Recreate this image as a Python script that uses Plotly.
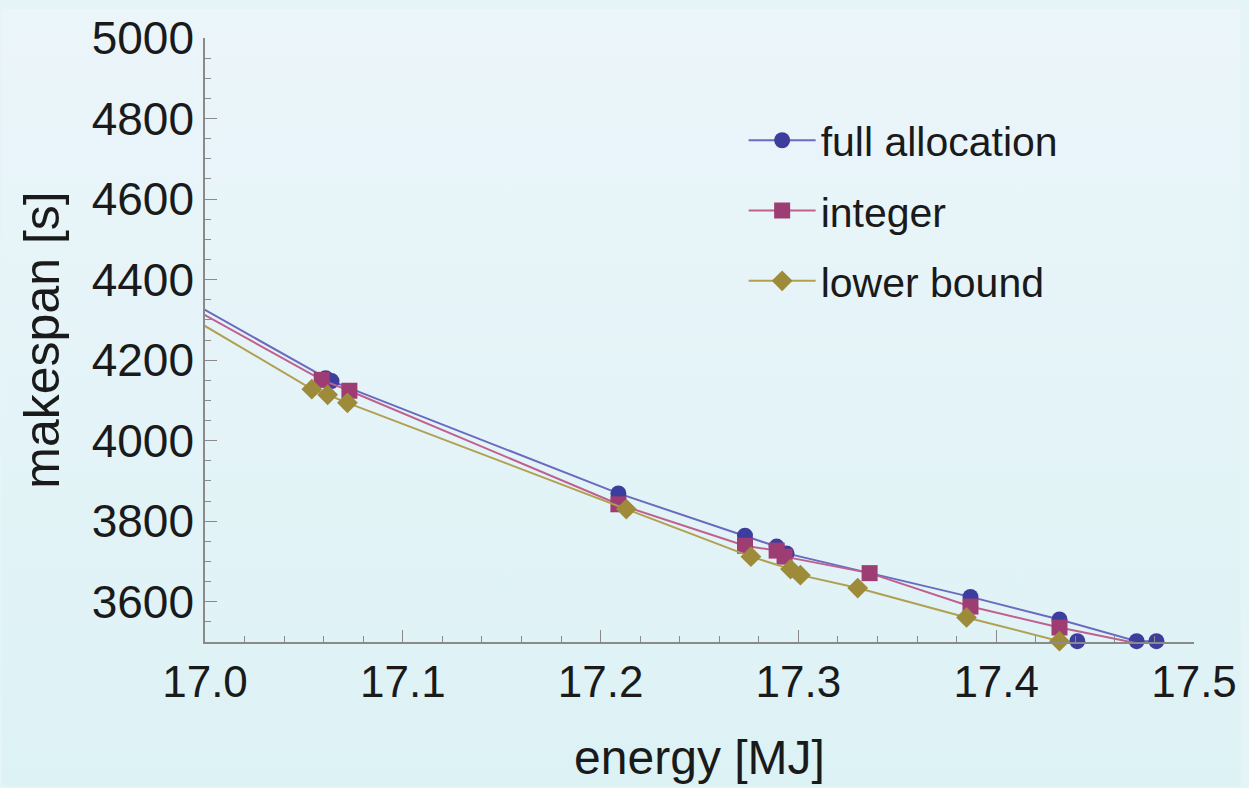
import base64
import plotly.graph_objects as go

# ---- data ----
full_x = [16.960, 17.061, 17.064, 17.209, 17.273, 17.289, 17.294, 17.387, 17.432, 17.471, 17.481, None, 17.441]
full_y = [4435, 4155, 4148, 3869, 3764, 3737, 3720, 3612, 3556, 3502, 3502, None, 3502]

int_x = [16.960, 17.059, 17.073, 17.209, 17.273, 17.289, 17.293, 17.336, 17.387, 17.432, 17.481]
int_y = [4421, 4151, 4124, 3842, 3739, 3727, 3712, 3671, 3588, 3536, 3487]

low_x = [16.960, 17.054, 17.062, 17.072, 17.213, 17.276, 17.296, 17.301, 17.330, 17.385, 17.432]
low_y = [4401, 4128, 4114, 4094, 3830, 3712, 3681, 3666, 3634, 3561, 3502]

x_ticks = [17.0, 17.1, 17.2, 17.3, 17.4, 17.5]
x_tick_labels = ["17.0", "17.1", "17.2", "17.3", "17.4", "17.5"]
y_ticks = [3600, 3800, 4000, 4200, 4400, 4600, 4800, 5000]

series_names = ["full allocation", "integer", "lower bound"]
colors = ["#3d3d9e", "#9e3d73", "#9e8b3a"]
line_colors = ["#6a6ac0", "#c0608f", "#b0a050"]

W, H = 1249, 788
L, R, T, B = 205, 47, 30, 146
PW, PH = W - L - R, H - T - B

FONT = "Liberation Sans, Arial, sans-serif"

fig = go.Figure()
data = [(full_x, full_y, "circle", False), (int_x, int_y, "square", True), (low_x, low_y, "diamond", False)]
for i, (xs, ys, sym, clip) in enumerate(data):
    fig.add_trace(go.Scatter(
        x=xs, y=ys, mode="lines+markers", name=series_names[i],
        legendgroup=f"g{i}", connectgaps=False, cliponaxis=clip,
        line=dict(color=line_colors[i], width=2),
        marker=dict(symbol=sym, size=16, color=colors[i], line=dict(width=0)),
    ))

svg = (f'<svg xmlns="http://www.w3.org/2000/svg" width="{W}" height="{H}">'
       '<defs><linearGradient id="g" x1="0" y1="0" x2="0" y2="1">'
       '<stop offset="0" stop-color="#ebf5fa"/><stop offset="1" stop-color="#ddf2f5"/>'
       '</linearGradient></defs>'
       f'<rect width="{W}" height="{H}" fill="url(#g)"/></svg>')
src = "data:image/svg+xml;base64," + base64.b64encode(svg.encode()).decode()

axis_common = dict(
    showline=True, linecolor="#8a8a8a", linewidth=1.5,
    ticks="inside", ticklen=12, tickwidth=1.2, tickcolor="#8a8a8a",
    showgrid=False, zeroline=False,
    mirror=False,
)

fig.update_layout(
    width=W, height=H,
    margin=dict(l=L, r=R, t=T, b=B),
    paper_bgcolor="#e4f4f7",
    plot_bgcolor="rgba(0,0,0,0)",
    images=[dict(source=src, xref="paper", yref="paper",
                 x=-L / PW, y=1 + T / PH, sizex=W / PW, sizey=H / PH,
                 xanchor="left", yanchor="top", sizing="stretch", layer="below")],
    xaxis=dict(range=[17.0, 17.5], tickvals=x_ticks, ticktext=x_tick_labels,
               tickfont=dict(family=FONT, size=44, color="#1a1a1a"),
               minor=dict(dtick=0.02, ticks="inside", ticklen=6, tickcolor="#8a8a8a", showgrid=False),
               title=dict(text="energy [MJ]", font=dict(family=FONT, size=48, color="#1a1a1a"), standoff=36),
               **axis_common),
    yaxis=dict(range=[3500, 5000], tickvals=y_ticks,
               tickfont=dict(family=FONT, size=46, color="#1a1a1a"),
               minor=dict(dtick=50, ticks="inside", ticklen=6, tickcolor="#8a8a8a", showgrid=False),
               title=dict(text="makespan [s]", font=dict(family=FONT, size=50, color="#1a1a1a"), standoff=16),
               **axis_common),
    showlegend=True,
    legend=dict(x=(748 - L) / PW, y=1 - (100 - T) / PH, xanchor="left", yanchor="top",
                bgcolor="rgba(0,0,0,0)", font=dict(family=FONT, size=41, color="#1a1a1a"),
                tracegroupgap=14, itemwidth=67),
)

fig.write_html("out.html")
